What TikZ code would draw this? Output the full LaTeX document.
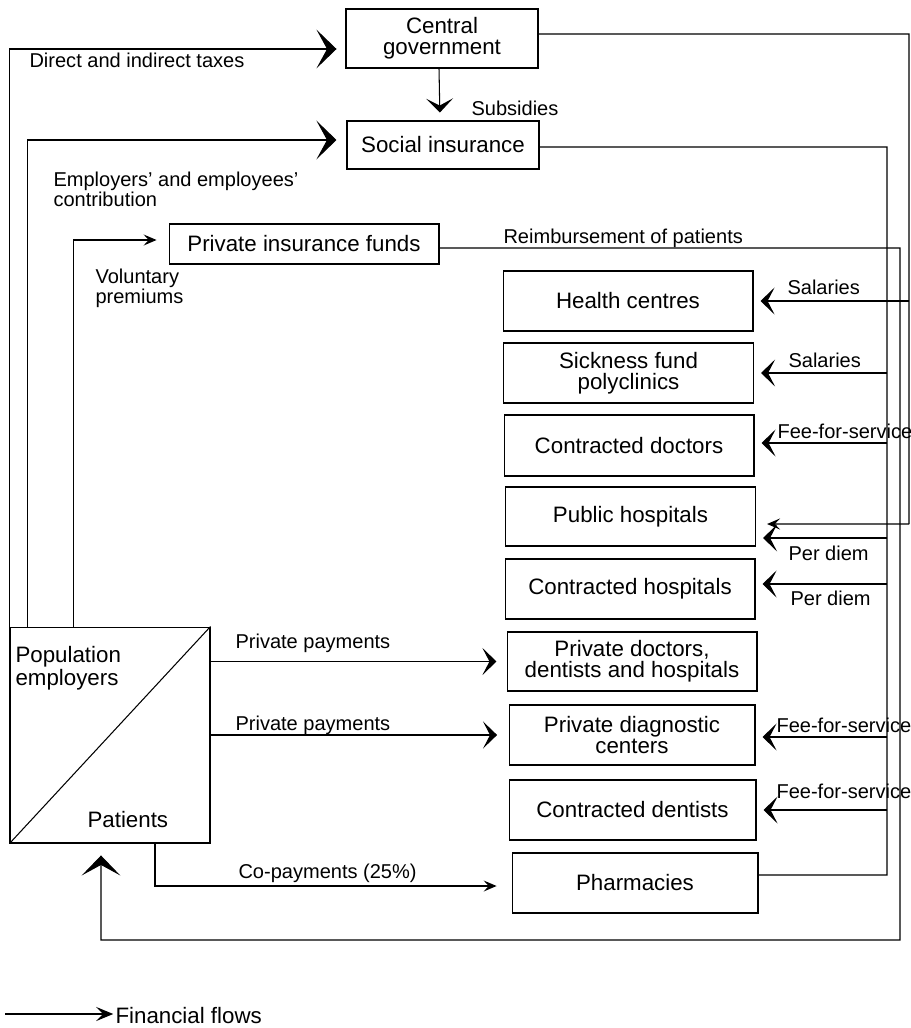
\documentclass[tikz,border=0pt]{standalone}
\usepackage{fontspec}
\setmainfont{Liberation Sans}
\usetikzlibrary{arrows.meta}
\newcommand{\boxfont}{\fontsize{12.7}{12}\selectfont}
\newcommand{\lblfont}{\fontsize{11.4}{9.1}\selectfont}

\begin{document}
\begin{tikzpicture}[x=0.02cm, y=-0.02cm, line width=0.6pt,
    box/.style={draw, inner sep=0pt, align=center, font=\boxfont},
    lbl/.style={inner sep=0pt, font=\lblfont, align=left},
    bigarr/.style={-{Stealth[length=11.4pt,width=22pt,inset=6pt]}},
    medarr/.style={-{Stealth[length=8pt,width=15.4pt,inset=4pt]}},
    smallarr/.style={-{Stealth[length=7.4pt,width=6.3pt,inset=3pt]}},
    legarr/.style={-{Stealth[length=9.7pt,width=8pt,inset=4pt]}}]

        \useasboundingbox (0,0) rectangle (911,1028);

        % Funding bodies
        \node[box, minimum width=3.84cm, minimum height=1.18cm] (cg) at (442,38.5) {Central\\government};
        \node[box, minimum width=3.84cm, minimum height=0.96cm] (si) at (443,145) {Social insurance};
        \node[box, minimum width=5.4cm, minimum height=0.8cm] (pif) at (304,244) {Private insurance funds};

        % Providers
        \node[box, minimum width=5cm, minimum height=1.2cm] (hc) at (628,301) {Health centres};
        \node[box, minimum width=5cm, minimum height=1.2cm] (sfp) at (628.5,373) {Sickness fund\\polyclinics};
        \node[box, minimum width=5cm, minimum height=1.22cm] (cd) at (629,445.5) {Contracted doctors};
        \node[box, minimum width=5cm, minimum height=1.18cm] (ph) at (630.5,516.5) {Public hospitals};
        \node[box, minimum width=5cm, minimum height=1.2cm] (ch) at (630,589) {Contracted hospitals};
        \node[box, minimum width=5cm, minimum height=1.18cm] (pd) at (632,661.5) {Private doctors,\\dentists and hospitals};
        \node[box, minimum width=4.92cm, minimum height=1.2cm] (pdc) at (632,735) {Private diagnostic\\centers};
        \node[box, minimum width=4.94cm, minimum height=1.2cm] (cdt) at (632.5,810) {Contracted dentists};
        \node[box, minimum width=4.92cm, minimum height=1.2cm] (phar) at (635,883) {Pharmacies};

        % Population
        \node[draw, inner sep=0pt, minimum width=4cm, minimum height=4.32cm] (pop) at (110,735) {};
        \draw (pop.south west) -- (pop.north east);
        \node[box, draw=none, align=left, anchor=north west, font=\fontsize{12.7}{11.4}\selectfont] (popl) at (15,646) {Population\\employers};
        \node[box, draw=none, anchor=base west] (patl) at (87,827) {Patients};

        % Payments into the funds
        \draw[bigarr, shorten >=5.1pt] (pop.north west) |- ([yshift=-0.21cm]cg.west);
        \draw[bigarr, shorten >=5.7pt] ([xshift=0.36cm]pop.north west) |- ([yshift=0.1cm]si.west);
        \draw[smallarr, shorten >=6.8pt] ([xshift=1.28cm]pop.north west) |- ([yshift=0.08cm]pif.west);
        \draw[medarr, shorten >=4.5pt] ([xshift=-0.06cm]cg.south) -- ([xshift=-0.06cm]si.north);
        \node[lbl, anchor=base west] (taxl) at (29,67) {Direct and indirect taxes};
        \node[lbl, anchor=base west] (subl) at (471,115) {Subsidies};
        \node[lbl, anchor=north west] (contl) at (53,171) {Employers’ and employees’\\contribution};
        \node[lbl, anchor=north west] (voll) at (95,268) {Voluntary\\premiums};

        % Central government
        \coordinate (cgtop) at (909,34);
        \coordinate (cgbot) at (909,524);
        \draw ([yshift=0.09cm]cg.east) -- (cgtop) -- (cgbot);
        \draw[medarr, shorten >=4pt] (hc.east -| cgtop) -- (hc.east);
        \draw[smallarr, shorten >=6.3pt] (cgbot) -- ([yshift=-0.15cm]ph.east);

        % Social insurance
        \coordinate (sitop) at (887,147);
        \coordinate (sibot) at (887,875);
        \draw ([yshift=-0.04cm]si.east) -- (sitop) -- (sibot) -- (sibot -| phar.east);
        \foreach \b/\dy in {sfp/0, cd/0.05, ph/-0.43, ch/0.1, pdc/-0.04, cdt/0}{
          \coordinate (tip) at ([yshift=\dy cm]\b.east);
          \draw[medarr, shorten >=4pt] (tip -| sitop) -- (tip);
        }
        \node[lbl, anchor=base west] (sal1) at (787,294) {Salaries};
        \node[lbl, anchor=base west] (sal2) at (788,367) {Salaries};
        \node[lbl, anchor=base west] (fee1) at (777,438) {Fee-for-service};
        \node[lbl, anchor=base west] (pdm1) at (788,560) {Per diem};
        \node[lbl, anchor=base west] (pdm2) at (790,605) {Per diem};
        \node[lbl, anchor=base west] (fee2) at (776,732) {Fee-for-service};
        \node[lbl, anchor=base west] (fee3) at (776,798) {Fee-for-service};

        % Private insurance
        \coordinate (piftop) at (900,248);
        \coordinate (pifbot) at (900,940);
        \draw[bigarr, shorten >=6.8pt] ([yshift=-0.08cm]pif.east) -- (piftop) -- (pifbot) -| ([xshift=-0.18cm]pop.south);
        \node[lbl, anchor=base west] (reiml) at (503,243) {Reimbursement of patients};

        % Private payments
        \draw[medarr, shorten >=5.7pt] (pop.east |- pd.west) -- (pd.west);
        \draw[medarr, shorten >=6.5pt] (pop.east |- pdc.west) -- (pdc.west);
        \draw[smallarr, shorten >=8.5pt] ([xshift=0.9cm]pop.south) |- ([yshift=-0.06cm]phar.west);
        \node[lbl, anchor=base west] (pp1) at (235,648) {Private payments};
        \node[lbl, anchor=base west] (pp2) at (235,730) {Private payments};
        \node[lbl, anchor=base west] (copl) at (238,878) {Co-payments (25\%)};

        % Legend
        \coordinate (legA) at (5,1014);
        \node[box, draw=none, anchor=west] (legl) at (115,1016) {Financial flows};
        \draw[legarr, shorten >=1pt] (legA) -- (legA -| legl.west);

\end{tikzpicture}
\end{document}
